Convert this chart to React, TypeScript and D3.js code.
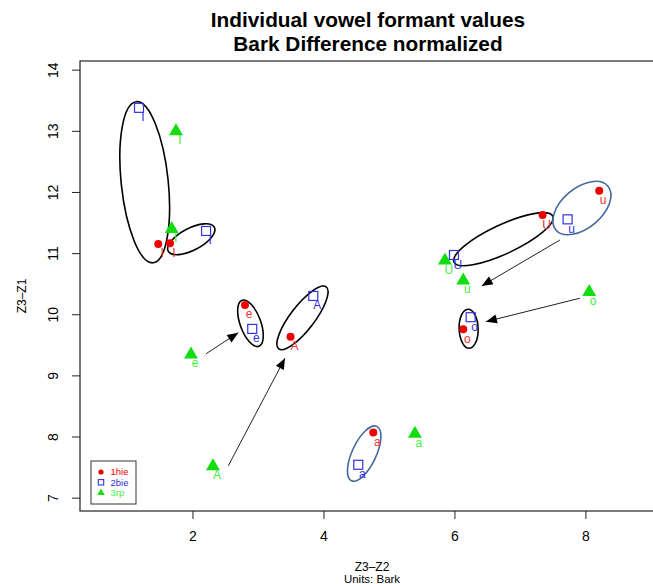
import { scaleLinear } from "d3";

const width = 653;
const height = 584;

// vowel labels, in the same order for every speaker
const vowels = ["I", "I", "e", "A", "a", "o", "u", "U"];

// speaker 1hie
const hieX = [1.47, 1.649, 2.794, 3.49, 4.753, 6.127, 8.203, 7.339];
const hieY = [11.157, 11.168, 10.16, 9.642, 8.074, 9.763, 12.028, 11.63];
// speaker 2bie
const bieX = [1.176, 2.2, 2.905, 3.837, 4.524, 6.24, 7.72, 5.985];
const bieY = [13.384, 11.37, 9.768, 10.307, 7.546, 9.96, 11.56, 10.977];
// speaker 3rp
const rpX = [1.74, 1.675, 1.97, 2.305, 5.389, 8.05, 6.127, 5.847];
const rpY = [13.01, 11.413, 9.36, 7.53, 8.064, 10.38, 10.57, 10.895];

const speakers = ["1hie", "2bie", "3rp"];

// hand drawn ellipses round the 1hie / 2bie pairs
const ellX = [1.263, 1.974, 2.878, 3.672, 4.614, 6.209, 6.74, 7.939];
const ellY = [12.167, 11.235, 9.86, 9.948, 7.729, 9.771, 11.235, 11.745];
const ellBlue = [false, false, false, false, true, false, false, true];

// arrows
const arrFromX = [2.198, 2.539, 7.603, 7.908];
const arrFromY = [9.36, 7.529, 11.222, 10.27];
const arrToX = [2.692, 3.405, 6.408, 6.473];
const arrToY = [9.707, 9.289, 10.471, 9.887];

const xTicks = [2, 4, 6, 8];
const yTicks = [7, 8, 9, 10, 11, 12, 13, 14];

// pixel shapes of the ellipses: semi axes and rotation
const ellShape = [
  [81, 23.5, 84],
  [26, 11, -27.5],
  [24.5, 10.3, 70],
  [39, 12, -52.5],
  [30, 12, -65],
  [19.5, 9.5, 88],
  [54.5, 14.5, -25],
  [34, 20, -40],
];

const RED = "#ee0000";
const BLUE = "#3333dd";
const GREEN = "#11dd11";
const GREEN_TXT = "#44ee44";
const STEEL = "#44689e";
const font = "'Liberation Sans', Arial, Helvetica, sans-serif";

const left = 80;
const right = 656;
const top = 61;
const bottom = 511;

export default function App() {
  const x = scaleLinear().domain([0.275, 9.07]).range([left, right]);
  const y = scaleLinear().domain([6.79, 14.15]).range([bottom, top]);

  const tri = (cx: number, cy: number, s: number) =>
    `M${cx},${cy - s * 0.62}L${cx + s * 0.58},${cy + s * 0.38}L${cx - s * 0.58},${cy + s * 0.38}Z`;

  const label = (
    px: number,
    py: number,
    t: string,
    fill: string,
    key: string
  ) => (
    <text
      key={key}
      x={px + 4}
      y={py + 13.5}
      textAnchor="middle"
      fontSize={12}
      fill={fill}
    >
      {t}
    </text>
  );

  const arrowHead = (x1: number, y1: number, x2: number, y2: number) => {
    const a = Math.atan2(y2 - y1, x2 - x1);
    const len = 11;
    const w = 4.5;
    const bx = x2 - len * Math.cos(a);
    const by = y2 - len * Math.sin(a);
    const nx = -Math.sin(a) * w;
    const ny = Math.cos(a) * w;
    return `M${x2},${y2}L${bx + nx},${by + ny}L${bx - nx},${by - ny}Z`;
  };

  return (
    <svg
      width={width}
      height={height}
      style={{ position: "absolute", left: 0, top: 0, background: "#fff" }}
      fontFamily={font}
    >
      <rect width={width} height={height} fill="#fff" />
      {/* title */}
      <text x={368} y={27} textAnchor="middle" fontSize={20.8} fontWeight="bold">
        Individual vowel formant values
      </text>
      <text x={368} y={51} textAnchor="middle" fontSize={20.8} fontWeight="bold">
        Bark Difference normalized
      </text>

      {/* frame */}
      <rect
        x={left}
        y={top}
        width={right - left}
        height={bottom - top}
        fill="none"
        stroke="#222"
        strokeWidth={1.2}
      />

      {/* y axis */}
      {yTicks.map((t) => (
        <g key={`y${t}`}>
          <line x1={left - 8} x2={left} y1={y(t)} y2={y(t)} stroke="#222" />
          <text
            transform={`translate(${left - 22},${y(t)}) rotate(-90)`}
            textAnchor="middle"
            fontSize={14}
          >
            {t}
          </text>
        </g>
      ))}
      <text
        transform={`translate(26,${(top + bottom) / 2 + 10}) rotate(-90)`}
        textAnchor="middle"
        fontSize={12}
      >
        Z3–Z1
      </text>

      {/* x axis */}
      {xTicks.map((t) => (
        <g key={`x${t}`}>
          <line x1={x(t)} x2={x(t)} y1={bottom} y2={bottom + 8} stroke="#222" />
          <text x={x(t)} y={541} textAnchor="middle" fontSize={14}>
            {t}
          </text>
        </g>
      ))}
      <text x={372} y={571} textAnchor="middle" fontSize={12}>
        Z3–Z2
      </text>
      <text x={372} y={583} textAnchor="middle" fontSize={11.5}>
        Units: Bark
      </text>

      {/* ellipses */}
      {ellX.map((cx, i) => (
        <ellipse
          key={`el${i}`}
          transform={`translate(${x(cx)},${y(ellY[i])}) rotate(${ellShape[i][2]})`}
          rx={ellShape[i][0]}
          ry={ellShape[i][1]}
          fill="none"
          stroke={ellBlue[i] ? STEEL : "#000"}
          strokeWidth={1.6}
        />
      ))}

      {/* arrows */}
      {arrFromX.map((fx, i) => {
        const x1 = x(fx);
        const y1 = y(arrFromY[i]);
        const x2 = x(arrToX[i]);
        const y2 = y(arrToY[i]);
        return (
          <g key={`ar${i}`}>
            <line x1={x1} y1={y1} x2={x2} y2={y2} stroke="#222" strokeWidth={1} />
            <path d={arrowHead(x1, y1, x2, y2)} fill="#000" />
          </g>
        );
      })}

      {/* 3rp */}
      {rpX.map((v, i) => (
        <g key={`rp${i}`}>
          <path d={tri(x(v), y(rpY[i]), 12)} fill={GREEN} />
          {label(x(v), y(rpY[i]), vowels[i], GREEN_TXT, `rpl${i}`)}
        </g>
      ))}
      {/* 2bie */}
      {bieX.map((v, i) => (
        <g key={`bie${i}`}>
          <rect
            x={x(v) - 4.5}
            y={y(bieY[i]) - 4.5}
            width={9}
            height={9}
            fill="none"
            stroke={BLUE}
            strokeWidth={1.2}
          />
          {label(x(v), y(bieY[i]), vowels[i], BLUE, `biel${i}`)}
        </g>
      ))}
      {/* 1hie */}
      {hieX.map((v, i) => (
        <g key={`hie${i}`}>
          <circle cx={x(v)} cy={y(hieY[i])} r={4} fill={RED} />
          {label(x(v), y(hieY[i]), vowels[i], "#ee3333", `hiel${i}`)}
        </g>
      ))}

      {/* legend */}
      <rect x={91} y={461} width={45} height={43} fill="#fff" stroke="#333" strokeWidth={1} />
      {speakers.map((s, i) => {
        const ly = 472 + i * 10.3;
        const col = [RED, BLUE, GREEN][i];
        return (
          <g key={s}>
            {i === 0 && <circle cx={101} cy={ly} r={2.6} fill={col} />}
            {i === 1 && (
              <rect x={98.3} y={ly - 2.7} width={5.4} height={5.4} fill="none" stroke={col} strokeWidth={1.1} />
            )}
            {i === 2 && <path d={tri(101, ly, 6.5)} fill={col} />}
            <text x={110.5} y={ly + 3.3} fontSize={9.5} fill={i === 2 ? GREEN_TXT : col}>
              {s}
            </text>
          </g>
        );
      })}
    </svg>
  );
}
